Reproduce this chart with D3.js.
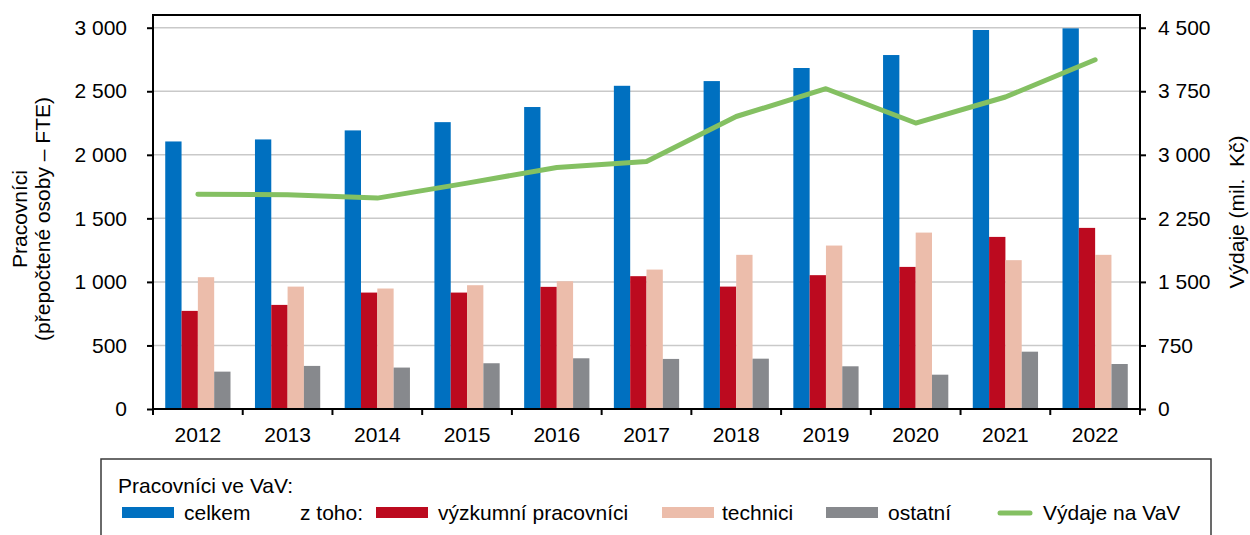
<!DOCTYPE html>
<html>
<head>
<meta charset="utf-8">
<script src="https://cdn.jsdelivr.net/npm/d3@7"></script>
<style>
  body { margin: 0; background: #fff; }
  svg { font-family: "Liberation Sans", Arial, sans-serif; }
</style>
</head>
<body>
<svg class="mysvg"></svg>
<script>
// data
var years = ["2012","2013","2014","2015","2016","2017","2018","2019","2020","2021","2022"];
var celkem    = [2105, 2121, 2192, 2257, 2376, 2543, 2580, 2683, 2785, 2982, 2995];
var vyzkumni  = [772, 819, 916, 916, 961, 1045, 963, 1053, 1118, 1354, 1425];
var technici  = [1037, 963, 948, 974, 1005, 1097, 1213, 1286, 1388, 1171, 1213];
var ostatni   = [294, 339, 326, 360, 399, 394, 396, 336, 270, 451, 354];
var vydaje    = [2535, 2530, 2489, 2666, 2850, 2921, 3452, 3780, 3375, 3682, 4122];
var leftTicks  = [0, 500, 1000, 1500, 2000, 2500, 3000];
var rightTicks = [0, 750, 1500, 2250, 3000, 3750, 4500];

var svgWidth = 1250, svgHeight = 535;
// plot area edges
var pL = 153, pR = 1140, pT = 15, pB = 409;

var svg = d3.select(".mysvg")
    .attr("width", svgWidth)
    .attr("height", svgHeight);

var series = [
    {key: "celkem", values: celkem, color: "#0070c0"},
    {key: "vyzkumni", values: vyzkumni, color: "#bc0a1f"},
    {key: "technici", values: technici, color: "#ecbdab"},
    {key: "ostatni", values: ostatni, color: "#87898d"}
];

var x = d3.scaleBand().domain(years).range([pL, pR]).paddingInner(0).paddingOuter(0);
var xInner = d3.scaleBand().domain(series.map(function(s) { return s.key; }))
    .range([0, x.bandwidth()]).paddingInner(0).paddingOuter(0.75);
var y = d3.scaleLinear().domain([0, 3100]).range([pB, pT]);
var y2 = d3.scaleLinear().domain([0, 4650]).range([pB, pT]);

var fmt = function(d) { return d3.format(",")(d).replace(/,/g, " "); };
var fs = 21;

// gridlines
svg.append("g")
    .selectAll("line")
    .data(leftTicks.slice(1))
    .enter().append("line")
    .attr("x1", pL).attr("x2", pR)
    .attr("y1", function(d) { return y(d); })
    .attr("y2", function(d) { return y(d); })
    .attr("stroke", "#c9c9c9")
    .attr("stroke-width", 1.5);

// bars
var groups = svg.append("g")
    .selectAll("g")
    .data(years)
    .enter().append("g")
    .attr("transform", function(d) { return "translate(" + x(d) + ",0)"; });

groups.selectAll("rect")
    .data(function(d, i) {
        return series.map(function(s) { return {key: s.key, value: s.values[i], color: s.color}; });
    })
    .enter().append("rect")
    .attr("x", function(d) { return xInner(d.key); })
    .attr("width", xInner.bandwidth())
    .attr("y", function(d) { return y(d.value); })
    .attr("height", function(d) { return pB - y(d.value); })
    .attr("fill", function(d) { return d.color; });

// line for spending (right axis)
var line = d3.line()
    .x(function(d, i) { return x(years[i]) + x.bandwidth() / 2; })
    .y(function(d) { return y2(d); });

svg.append("path")
    .datum(vydaje)
    .attr("d", line)
    .attr("fill", "none")
    .attr("stroke", "#84c062")
    .attr("stroke-width", 5)
    .attr("stroke-linecap", "round")
    .attr("stroke-linejoin", "round");

// axes
var yAxis = d3.axisLeft(y).tickValues(leftTicks).tickFormat(fmt).tickSizeOuter(0).tickSize(6).tickPadding(20);
var yAxis2 = d3.axisRight(y2).tickValues(rightTicks).tickFormat(fmt).tickSizeOuter(0).tickSize(6).tickPadding(12);
var xAxis = d3.axisBottom(x).tickSize(0).tickSizeOuter(0).tickPadding(18);

var gy = svg.append("g").attr("transform", "translate(" + pL + ",0)").call(yAxis);
var gy2 = svg.append("g").attr("transform", "translate(" + pR + ",0)").call(yAxis2);
var gx = svg.append("g").attr("transform", "translate(0," + pB + ")").call(xAxis);

[gy, gy2, gx].forEach(function(g) {
    g.select(".domain").remove();
    g.selectAll("text").attr("font-size", fs).attr("fill", "#000")
        .attr("font-family", "Liberation Sans, Arial, sans-serif");
    g.selectAll("line").attr("stroke", "#000").attr("stroke-width", 2);
});

// plot frame
svg.append("rect")
    .attr("x", pL).attr("y", pT).attr("width", pR - pL).attr("height", pB - pT)
    .attr("fill", "none").attr("stroke", "#000").attr("stroke-width", 2);

// x category boundary ticks
svg.append("g")
    .selectAll("line")
    .data(d3.range(years.length + 1))
    .enter().append("line")
    .attr("x1", function(i) { return pL + i * x.step(); })
    .attr("x2", function(i) { return pL + i * x.step(); })
    .attr("y1", pB).attr("y2", pB + 6)
    .attr("stroke", "#000").attr("stroke-width", 2);

// axis titles
var lt = svg.append("text")
    .attr("transform", "translate(27,219) rotate(-90)")
    .attr("text-anchor", "middle")
    .attr("font-size", fs);
lt.append("tspan").attr("x", 0).attr("dy", 0).text("Pracovníci");
lt.append("tspan").attr("x", 0).attr("dy", 23).text("(přepočtené osoby – FTE)");

svg.append("text")
    .attr("transform", "translate(1244,212) rotate(-90)")
    .attr("text-anchor", "middle")
    .attr("font-size", fs)
    .attr("xml:space", "preserve")
    .style("white-space", "pre")
    .text("Výdaje (mil.  Kč)");

// legend
var lg = svg.append("g");
lg.append("rect")
    .attr("x", 101).attr("y", 459).attr("width", 1110).attr("height", 90)
    .attr("fill", "#fff").attr("stroke", "#3a3a3a").attr("stroke-width", 1.5);
lg.append("text").attr("x", 118).attr("y", 493).attr("font-size", fs).text("Pracovníci ve VaV:");

var legendItems = [
    {label: "celkem", color: "#0070c0", sx: 122, tx: 184},
    {label: "výzkumní pracovníci", color: "#bc0a1f", sx: 376, tx: 438},
    {label: "technici", color: "#ecbdab", sx: 662, tx: 722},
    {label: "ostatní", color: "#87898d", sx: 826, tx: 888}
];
lg.append("text").attr("x", 300).attr("y", 520).attr("font-size", fs).text("z toho:");
legendItems.forEach(function(d) {
    lg.append("rect").attr("x", d.sx).attr("y", 507).attr("width", 52).attr("height", 11).attr("fill", d.color);
    lg.append("text").attr("x", d.tx).attr("y", 520).attr("font-size", fs).text(d.label);
});
lg.append("line").attr("x1", 1000).attr("x2", 1030).attr("y1", 513).attr("y2", 513)
    .attr("stroke", "#84c062").attr("stroke-width", 5).attr("stroke-linecap", "round");
lg.append("text").attr("x", 1043).attr("y", 520).attr("font-size", fs).text("Výdaje na VaV");
</script>
</body>
</html>
